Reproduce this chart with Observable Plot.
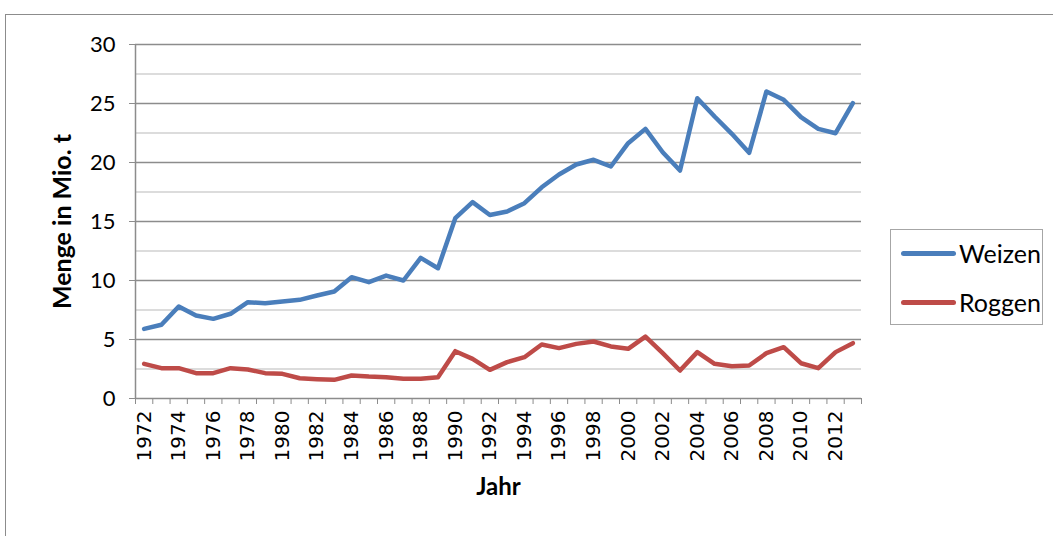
<!DOCTYPE html>
<html><head><meta charset="utf-8">
<script src="https://cdn.jsdelivr.net/npm/d3@7"></script>
<script src="https://cdn.jsdelivr.net/npm/@observablehq/plot@0.6"></script>
<style>
body{margin:0;background:#fff;}
#wrap{position:relative;width:1053px;height:536px;overflow:hidden;}
#frame{position:absolute;left:5px;top:14px;width:1100px;height:600px;border:1.5px solid #8c8c8c;}
#chart{position:absolute;left:0;top:0;}
#legend{position:absolute;left:890px;top:229px;width:153px;height:96px;border:1.5px solid #a6a6a6;box-sizing:border-box;font-family:Lato,sans-serif;font-size:25px;background:#fff;}
.item{position:absolute;left:10px;display:flex;align-items:center;line-height:1;}
.sw{width:55px;height:5px;border-radius:3px;margin-right:3px;}
</style>
</head><body>
<div id="wrap"><div id="frame"></div><div id="chart"></div><div id="legend"></div></div>
<script>
const years = [1972,1973,1974,1975,1976,1977,1978,1979,1980,1981,1982,1983,1984,1985,1986,1987,1988,1989,1990,1991,1992,1993,1994,1995,1996,1997,1998,1999,2000,2001,2002,2003,2004,2005,2006,2007,2008,2009,2010,2011,2012,2013];
const weizen = [5.9,6.25,7.8,7.03,6.75,7.18,8.16,8.08,8.22,8.36,8.73,9.07,10.28,9.86,10.42,10.0,11.92,11.04,15.28,16.64,15.55,15.85,16.55,17.9,18.98,19.83,20.23,19.66,21.64,22.85,20.87,19.32,25.45,23.9,22.43,20.82,26.02,25.31,23.84,22.85,22.48,25.03];
const roggen = [2.94,2.57,2.57,2.15,2.15,2.57,2.46,2.15,2.09,1.72,1.64,1.58,1.95,1.86,1.81,1.67,1.67,1.81,4.01,3.36,2.43,3.08,3.5,4.58,4.27,4.63,4.83,4.41,4.21,5.25,3.84,2.37,3.93,2.94,2.74,2.8,3.84,4.35,2.99,2.57,3.93,4.69];
const seriesNames = ["Weizen","Roggen"];
const seriesColors = ["#4a7ebb","#be4b48"];
const yTicks = [0,5,10,15,20,25,30];
const yMinor = [2.5,7.5,12.5,17.5,22.5,27.5];
const labelYears = years.filter(y => y % 2 === 0);
const boundaries = [...years.map(y => y - 0.5), years[years.length-1] + 0.5];

const data = years.flatMap((y,i) => [
  {year:y, value:weizen[i], series:"Weizen"},
  {year:y, value:roggen[i], series:"Roggen"}
]);

const chart = Plot.plot({
  width:1053, height:536,
  marginLeft:135, marginRight:192, marginTop:44, marginBottom:138,
  x:{type:"linear", domain:[boundaries[0], boundaries[boundaries.length-1]]},
  y:{domain:[0,30]},
  color:{domain:seriesNames, range:seriesColors},
  style:{fontFamily:"Lato, sans-serif", color:"#000", background:"transparent"},
  marks:[
    Plot.ruleY(yMinor,{stroke:"#d0d0d0", strokeWidth:1.5}),
    Plot.ruleY(yTicks.filter(v => v > 0),{stroke:"#8c8c8c", strokeWidth:1.5}),
    Plot.axisY({ticks:yTicks, tickSize:6, tickPadding:14, label:null, stroke:"#8c8c8c", fontSize:22}),
    Plot.axisX({ticks:boundaries, tickSize:6, tickFormat:() => "", label:null, stroke:"#8c8c8c"}),
    Plot.axisX({ticks:labelYears, tickSize:0, tickRotate:-90, tickPadding:12, tickFormat:d => String(d), label:null, fontFamily:"DejaVu Sans", fontSize:20}),
    Plot.ruleX([boundaries[0]],{stroke:"#8c8c8c", strokeWidth:1.5}),
    Plot.ruleY([0],{stroke:"#8c8c8c", strokeWidth:1.5}),
    Plot.line(data,{x:"year", y:"value", stroke:"series", strokeWidth:4.5, strokeLinejoin:"round", strokeLinecap:"round"}),
    Plot.text(["Menge in Mio. t"],{frameAnchor:"left", textAnchor:"middle", rotate:-90, dx:-73, fontWeight:"bold", fontSize:25}),
    Plot.text(["Jahr"],{frameAnchor:"bottom", textAnchor:"middle", dy:96, fontWeight:"bold", fontSize:24})
  ]
});
document.getElementById("chart").appendChild(chart);

const legend = document.getElementById("legend");
seriesNames.forEach((name,i) => {
  const item = document.createElement("div");
  item.className = "item";
  item.style.top = (i === 0 ? 11 : 60) + "px";
  item.innerHTML = `<div class="sw" style="background:${seriesColors[i]}"></div><span>${name}</span>`;
  legend.appendChild(item);
});
</script>
</body></html>
